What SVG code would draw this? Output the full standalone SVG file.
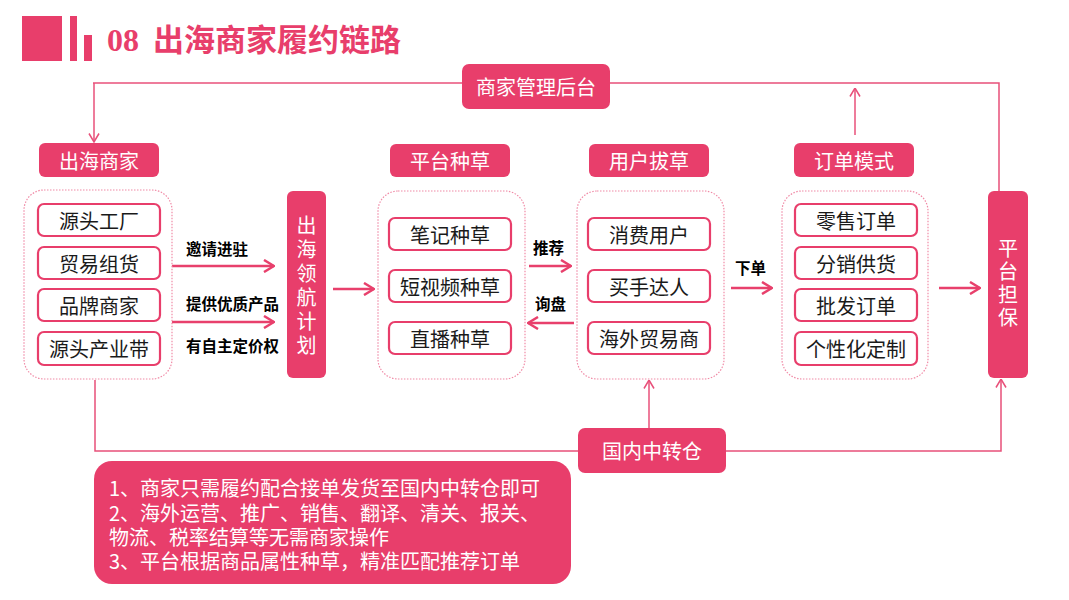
<svg xmlns="http://www.w3.org/2000/svg" width="1069" height="600" viewBox="0 0 1069 600">
<defs>
<style>
.hdr{fill:#E83E6B;}
.htx{fill:#fff;font-family:"Noto Sans CJK SC",sans-serif;font-size:20px;text-anchor:middle;dominant-baseline:central;}
.grp{fill:none;stroke:#F08AA6;stroke-width:1.2;stroke-dasharray:1.5 1.5;}
.item{fill:#fff;stroke:#E83E6B;stroke-width:2.2;}
.itx{fill:#1a1a1a;font-family:"Noto Sans CJK SC",sans-serif;font-size:20px;text-anchor:middle;dominant-baseline:central;}
.lbl{fill:#000;font-family:"Noto Sans CJK SC",sans-serif;font-size:15.5px;font-weight:bold;dominant-baseline:central;}
.thick{fill:none;stroke:#E8406C;stroke-width:2.5;}
.thin{fill:none;stroke:#E8507A;stroke-width:1.5;}
.vtx{fill:#fff;font-family:"Noto Sans CJK SC",sans-serif;font-size:20px;writing-mode:vertical-rl;}
</style>
<marker id="ah" markerUnits="userSpaceOnUse" viewBox="0 0 12 14" refX="11" refY="7" markerWidth="12" markerHeight="14" orient="auto">
<path d="M1,1 L11,7 L1,13" fill="none" stroke="#E8406C" stroke-width="2.5"/>
</marker>
<marker id="at" markerUnits="userSpaceOnUse" viewBox="0 0 10 12" refX="9.5" refY="6" markerWidth="10" markerHeight="12" orient="auto">
<path d="M1,1 L9.5,6 L1,11" fill="none" stroke="#E8507A" stroke-width="1.5"/>
</marker>
</defs>
<rect width="1069" height="600" fill="#fff"/>

<g id="title">
<rect x="22" y="16" width="40" height="45" fill="#E83E6B"/>
<rect x="70" y="16" width="7" height="45" fill="#E83E6B"/>
<rect x="84" y="35" width="8" height="26" fill="#E83E6B"/>
<text y="51" fill="#E83E6B" font-weight="bold" font-size="32"><tspan x="107" font-family="Liberation Serif, serif">08</tspan><tspan x="153" font-family="Noto Sans CJK SC, sans-serif" font-size="31">出海商家履约链路</tspan></text>
</g>

<g id="connectors">
<path class="thin" d="M462,83 H93"/>
<path class="thin" d="M94,83 V142" marker-end="url(#at)"/>
<path class="thin" d="M610,83 H999 V191"/>
<path class="thin" d="M855,135 V88" marker-end="url(#at)"/>
<path class="thin" d="M95,380 V451 H578"/>
<path class="thin" d="M649,428 V380" marker-end="url(#at)"/>
<path class="thin" d="M726,451 H1001 V379" marker-end="url(#at)"/>
<path class="thick" d="M172,266 H274" marker-end="url(#ah)"/>
<path class="thick" d="M172,322 H274" marker-end="url(#ah)"/>
<path class="thick" d="M333,289 H374" marker-end="url(#ah)"/>
<path class="thick" d="M529,266 H571" marker-end="url(#ah)"/>
<path class="thick" d="M574,323 H528" marker-end="url(#ah)"/>
<path class="thick" d="M731,288 H772" marker-end="url(#ah)"/>
<path class="thick" d="M939,288 H980" marker-end="url(#ah)"/>
<text class="lbl" x="186" y="248">邀请进驻</text>
<text class="lbl" x="186" y="303">提供优质产品</text>
<text class="lbl" x="186" y="345">有自主定价权</text>
<text class="lbl" x="533" y="247">推荐</text>
<text class="lbl" x="535" y="303">询盘</text>
<text class="lbl" x="735" y="267">下单</text>
</g>

<g id="admin">
<rect class="hdr" x="462" y="64" width="148" height="45" rx="7"/>
<text class="htx" x="536" y="86.5">商家管理后台</text>
</g>

<g id="merchant">
<rect class="hdr" x="39" y="143" width="120" height="34" rx="6"/>
<text class="htx" x="99" y="160">出海商家</text>
<rect class="grp" x="24" y="190" width="148" height="189" rx="20"/>
<rect class="item" x="38" y="204" width="122" height="32" rx="6"/>
<text class="itx" x="99" y="220">源头工厂</text>
<rect class="item" x="38" y="247" width="122" height="32" rx="6"/>
<text class="itx" x="99" y="263">贸易组货</text>
<rect class="item" x="38" y="289" width="122" height="32" rx="6"/>
<text class="itx" x="99" y="305">品牌商家</text>
<rect class="item" x="38" y="332" width="122" height="33" rx="6"/>
<text class="itx" x="99" y="348.5">源头产业带</text>
</g>

<g id="pilot">
<rect class="hdr" x="287" y="191" width="39" height="187" rx="6"/>
<text class="vtx" x="306.5" y="215" letter-spacing="4">出海领航计划</text>
</g>

<g id="seeding">
<rect class="hdr" x="390" y="144" width="120" height="33" rx="6"/>
<text class="htx" x="450" y="160.5">平台种草</text>
<rect class="grp" x="378" y="191" width="147" height="188" rx="20"/>
<rect class="item" x="389" y="218" width="122" height="32" rx="6"/>
<text class="itx" x="450" y="234">笔记种草</text>
<rect class="item" x="389" y="270" width="122" height="32" rx="6"/>
<text class="itx" x="450" y="286">短视频种草</text>
<rect class="item" x="389" y="322" width="122" height="32" rx="6"/>
<text class="itx" x="450" y="338">直播种草</text>
</g>

<g id="users">
<rect class="hdr" x="589" y="144" width="120" height="33" rx="6"/>
<text class="htx" x="649" y="160.5">用户拔草</text>
<rect class="grp" x="577" y="191" width="147" height="188" rx="20"/>
<rect class="item" x="588" y="218" width="122" height="32" rx="6"/>
<text class="itx" x="649" y="234">消费用户</text>
<rect class="item" x="588" y="270" width="122" height="32" rx="6"/>
<text class="itx" x="649" y="286">买手达人</text>
<rect class="item" x="588" y="322" width="122" height="32" rx="6"/>
<text class="itx" x="649" y="338">海外贸易商</text>
</g>

<g id="orders">
<rect class="hdr" x="794" y="143" width="120" height="34" rx="6"/>
<text class="htx" x="854" y="160">订单模式</text>
<rect class="grp" x="782" y="191" width="146" height="188" rx="20"/>
<rect class="item" x="795" y="204" width="122" height="32" rx="6"/>
<text class="itx" x="856" y="220">零售订单</text>
<rect class="item" x="795" y="247" width="122" height="32" rx="6"/>
<text class="itx" x="856" y="263">分销供货</text>
<rect class="item" x="795" y="289" width="122" height="32" rx="6"/>
<text class="itx" x="856" y="305">批发订单</text>
<rect class="item" x="795" y="332" width="122" height="33" rx="6"/>
<text class="itx" x="856" y="348.5">个性化定制</text>
</g>

<g id="guarantee">
<rect class="hdr" x="988" y="191" width="40" height="187" rx="6"/>
<text class="vtx" x="1008" y="238" font-size="21" letter-spacing="3.3">平台担保</text>
</g>

<g id="warehouse">
<rect class="hdr" x="578" y="428" width="148" height="45" rx="7"/>
<text class="htx" x="652" y="450.5">国内中转仓</text>
</g>

<g id="notes">
<rect class="hdr" x="94" y="461" width="477" height="123" rx="18"/>
<text fill="#fff" font-family="Noto Sans CJK SC, sans-serif" font-size="20" dominant-baseline="central">
<tspan x="109" y="487">1、商家只需履约配合接单发货至国内中转仓即可</tspan>
<tspan x="109" y="512">2、海外运营、推广、销售、翻译、清关、报关、</tspan>
<tspan x="109" y="536">物流、税率结算等无需商家操作</tspan>
<tspan x="109" y="560">3、平台根据商品属性种草，精准匹配推荐订单</tspan>
</text>
</g>
</svg>
